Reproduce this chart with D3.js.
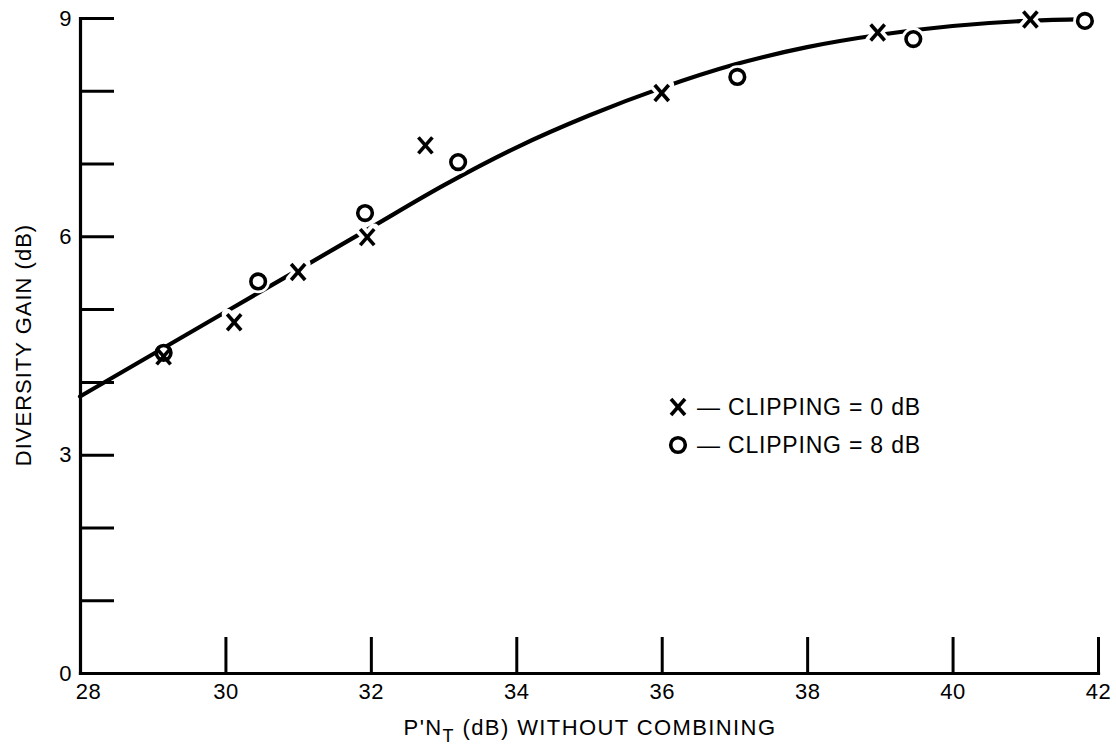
<!DOCTYPE html>
<html><head><meta charset="utf-8">
<script src="https://cdn.jsdelivr.net/npm/d3@7"></script>
<style>
body{margin:0;background:#fff}
svg{display:block}
text{font-family:"Liberation Sans",Arial,Helvetica,sans-serif;fill:#000}
</style>
</head><body>
<svg id="c" width="1116" height="753"></svg>
<script>
// ---- data ----
const xTickValues = [28, 30, 32, 34, 36, 38, 40, 42];
const yTickValues = [0, 1, 2, 3, 4, 5, 6, 7, 8, 9];
const yLabelled = [0, 3, 6, 9];

// X markers: clipping = 0 dB
const clip0X = [29.15, 30.12, 31.0, 31.95, 32.75, 36.0, 38.97, 41.07];
const clip0Y = [4.35, 4.82, 5.51, 5.99, 7.25, 7.97, 8.80, 8.98];
// O markers: clipping = 8 dB
const clip8X = [29.15, 30.45, 31.92, 33.2, 37.04, 39.46, 41.82];
const clip8Y = [4.40, 5.38, 6.32, 7.02, 8.19, 8.71, 8.96];
// hand-drawn fitted curve
const fitX = [28, 29, 30, 31, 32, 33, 34, 35, 36, 37, 38, 39, 40, 41, 41.7];
const fitY = [3.80, 4.38, 4.96, 5.54, 6.12, 6.70, 7.22, 7.66, 8.04, 8.36, 8.60, 8.77, 8.89, 8.96, 8.98];

const legendLabels = ["— CLIPPING = 0 dB", "— CLIPPING = 8 dB"];
const xTitle = ["P'N", "T", " (dB) WITHOUT COMBINING"];
const yTitle = "DIVERSITY GAIN (dB)";

// ---- drawing ----
const svg = d3.select("#c");
const x = d3.scaleLinear().domain([28, 42]).range([80, 1098]);
const y = d3.scaleLinear().domain([0, 9]).range([673, 18]);
const FS = 22;

// fitted curve
const line = d3.line().x(d => x(d[0])).y(d => y(d[1])).curve(d3.curveMonotoneX);
svg.append("path")
  .datum(fitX.map((v, i) => [v, fitY[i]]))
  .attr("d", line)
  .attr("fill", "none").attr("stroke", "#000").attr("stroke-width", 4.2)
  .attr("stroke-linecap", "round");

// axes
const yAxis = d3.axisLeft(y).tickValues(yTickValues)
  .tickSizeInner(-34).tickSizeOuter(0).tickPadding(8)
  .tickFormat(d => yLabelled.includes(d) ? d : "");
const gy = svg.append("g").attr("transform", "translate(80,0)").call(yAxis);

const xAxis = d3.axisBottom(x).tickValues(xTickValues)
  .tickSizeInner(-36).tickSizeOuter(0).tickPadding(10)
  .tickFormat(d => d);
const gx = svg.append("g").attr("transform", "translate(0,673)").call(xAxis);

[gx, gy].forEach(g => {
  g.select(".domain").attr("stroke", "#000").attr("stroke-width", 3.2).attr("stroke-linecap", "square");
  g.selectAll(".tick line").attr("stroke", "#000").attr("stroke-width", 3);
  g.selectAll(".tick text").attr("font-size", FS).attr("fill", "#000")
    .attr("font-family", '"Liberation Sans",Arial,sans-serif').attr("letter-spacing", 0.5);
});
gx.selectAll(".tick").filter(d => d === 28).select("line").remove();
gx.selectAll(".tick").filter(d => d === 28).select("text").attr("dx", 8);
gy.selectAll(".tick").filter(d => d === 0).select("line").remove();

// markers
function drawX(g, cx, cy, halo) {
  const dx = 7, dy = 8;
  const segs = [[-dx, -dy, dx, dy], [-dx, dy, dx, -dy]];
  if (halo) segs.forEach(s => g.append("line")
    .attr("x1", cx + s[0]).attr("y1", cy + s[1]).attr("x2", cx + s[2]).attr("y2", cy + s[3])
    .attr("stroke", "#fff").attr("stroke-width", 11).attr("stroke-linecap", "round"));
  segs.forEach(s => g.append("line")
    .attr("x1", cx + s[0]).attr("y1", cy + s[1]).attr("x2", cx + s[2]).attr("y2", cy + s[3])
    .attr("stroke", "#000").attr("stroke-width", 3.6).attr("stroke-linecap", "butt"));
}
function drawO(g, cx, cy, halo) {
  if (halo) g.append("circle").attr("cx", cx).attr("cy", cy).attr("r", 7.3)
    .attr("fill", "none").attr("stroke", "#fff").attr("stroke-width", 9);
  g.append("circle").attr("cx", cx).attr("cy", cy).attr("r", 7.3)
    .attr("fill", "#fff").attr("stroke", "#000").attr("stroke-width", 3.6);
}
const gm = svg.append("g");
clip8X.forEach((v, i) => drawO(gm, x(v), y(clip8Y[i]), i !== 0));
clip0X.forEach((v, i) => drawX(gm, x(v), y(clip0Y[i]), i !== 0));

// legend
const gl = svg.append("g");
drawX(gl, 678, 407, false);
drawO(gl, 678, 445, false);
gl.selectAll("text.leg").data(legendLabels).enter().append("text")
  .attr("class", "leg")
  .attr("x", 697).attr("y", (d, i) => [407, 445][i])
  .attr("dy", "0.35em")
  .attr("font-size", 23).attr("letter-spacing", 0.8)
  .text(d => d);

// axis titles
const xt = svg.append("text").attr("x", 590).attr("y", 735)
  .attr("text-anchor", "middle").attr("font-size", FS).attr("letter-spacing", 1.4);
xt.append("tspan").text(xTitle[0]);
xt.append("tspan").attr("dy", 7).attr("font-size", 18).text(xTitle[1]);
xt.append("tspan").attr("dy", -7).text(xTitle[2]);

svg.append("text")
  .attr("transform", "translate(31,345) rotate(-90)")
  .attr("text-anchor", "middle").attr("font-size", FS).attr("letter-spacing", 1)
  .text(yTitle);
</script>
</body></html>
